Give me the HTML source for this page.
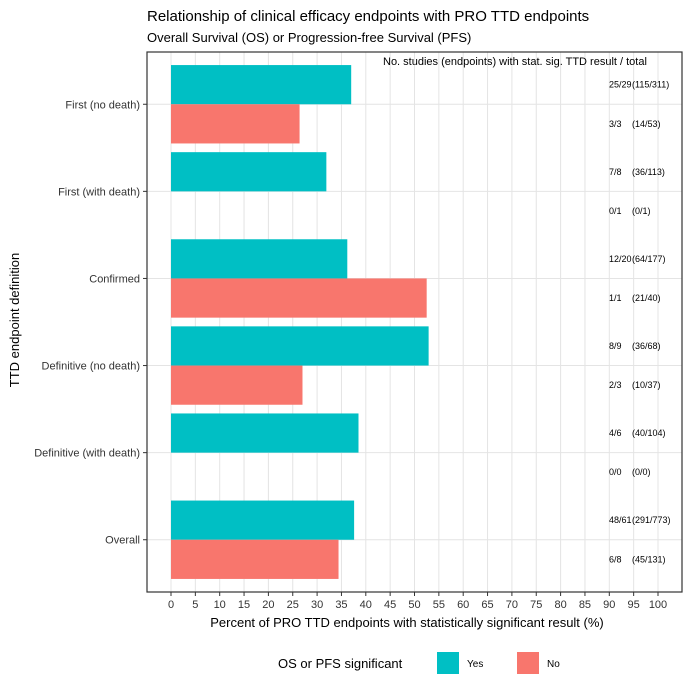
<!DOCTYPE html>
<html><head><meta charset="utf-8"><style>
body{margin:0;background:#fff;}
svg{display:block;font-family:"Liberation Sans",Arial,sans-serif;}
</style></head><body>
<svg id="chart" width="685" height="675" viewBox="0 0 685 675">
<text x="147" y="21" font-size="15" fill="#000">Relationship of clinical efficacy endpoints with PRO TTD endpoints</text>
<text x="147" y="42" font-size="13" fill="#000">Overall Survival (OS) or Progression-free Survival (PFS)</text>
<g id="plot"></g>
<text x="383" y="65" font-size="11" fill="#000">No. studies (endpoints) with stat. sig. TTD result / total</text>
<text x="407" y="627" font-size="13" text-anchor="middle" fill="#000">Percent of PRO TTD endpoints with statistically significant result (%)</text>
<text transform="translate(19,320) rotate(-90)" font-size="13" text-anchor="middle" fill="#000">TTD endpoint definition</text>
<g>
<text x="278" y="668" font-size="13" fill="#000">OS or PFS significant</text>
<rect x="437" y="652" width="22" height="22" fill="#00bfc4"/>
<text x="467" y="667" font-size="10" fill="#000">Yes</text>
<rect x="517" y="652" width="22" height="22" fill="#f8766d"/>
<text x="547" y="667" font-size="10" fill="#000">No</text>
</g>
</svg>
<script>
const categories=["First (no death)","First (with death)","Confirmed","Definitive (no death)","Definitive (with death)","Overall"];
const yesValues=[37.0,31.9,36.2,52.9,38.5,37.6];
const noValues=[26.4,0,52.5,27.0,0,34.4];
const yesStudies=["25/29","7/8","12/20","8/9","4/6","48/61"];
const yesEndpoints=["(115/311)","(36/113)","(64/177)","(36/68)","(40/104)","(291/773)"];
const noStudies=["3/3","0/1","1/1","2/3","0/0","6/8"];
const noEndpoints=["(14/53)","(0/1)","(21/40)","(10/37)","(0/0)","(45/131)"];
const xTicks=[0,5,10,15,20,25,30,35,40,45,50,55,60,65,70,75,80,85,90,95,100];

const NS="http://www.w3.org/2000/svg";
const g=document.getElementById('plot');
const L=147,R=682,T=52,B=592;
const x=v=>171+v*4.87;
const step=(B-T)/(categories.length-1+1.2);
const yc=i=>T+step*(i+0.6);
const bh=step*0.45;
function mk(tag,attrs,parent){const e=document.createElementNS(NS,tag);for(const k in attrs)e.setAttribute(k,attrs[k]);(parent||g).appendChild(e);return e;}
let bg=mk('rect',{x:L,y:T,width:R-L,height:B-T,fill:'#fff'});


xTicks.forEach(t=>{
  let l=mk('line',{x1:x(t),x2:x(t),y1:T,y2:B,stroke:'#e4e4e4','stroke-width':1});
  
  
  let tk=mk('line',{x1:x(t),x2:x(t),y1:B,y2:B+4,stroke:'#333'});
  
  
  let tx=mk('text',{x:x(t),y:B+16,'font-size':11,'text-anchor':'middle',fill:'#333'});
  tx.textContent=t;
  
  
});
categories.forEach((c,i)=>{
  const y=yc(i);
  let l=mk('line',{x1:L,x2:R,y1:y,y2:y,stroke:'#e4e4e4','stroke-width':1});
  
  
  let tk=mk('line',{x1:L-4,x2:L,y1:y,y2:y,stroke:'#333'});
  
  
  let tx=mk('text',{x:L-7,y:y+4,'font-size':11,'text-anchor':'end',fill:'#333'});
  tx.textContent=c;
  
  
  if(yesValues[i]>0){
    let b=mk('rect',{x:x(0),y:y-bh,width:x(yesValues[i])-x(0),height:bh,fill:'#00bfc4'});
    
    
  }
  if(noValues[i]>0){
    let b=mk('rect',{x:x(0),y:y,width:x(noValues[i])-x(0),height:bh,fill:'#f8766d'});
    
    
  }
  [[yesStudies[i],yesEndpoints[i],y-bh/2],[noStudies[i],noEndpoints[i],y+bh/2]].forEach(a=>{
    let s=mk('text',{x:609,y:a[2]+3,'font-size':9,fill:'#000'});
    s.textContent=a[0];
    
    
    let e=mk('text',{x:632,y:a[2]+3,'font-size':9,fill:'#000'});
    e.textContent=a[1];
    
    
  });
});
let bd=mk('rect',{x:L,y:T,width:R-L,height:B-T,fill:'none',stroke:'#333','stroke-width':1.2});


</script>
</body></html>
